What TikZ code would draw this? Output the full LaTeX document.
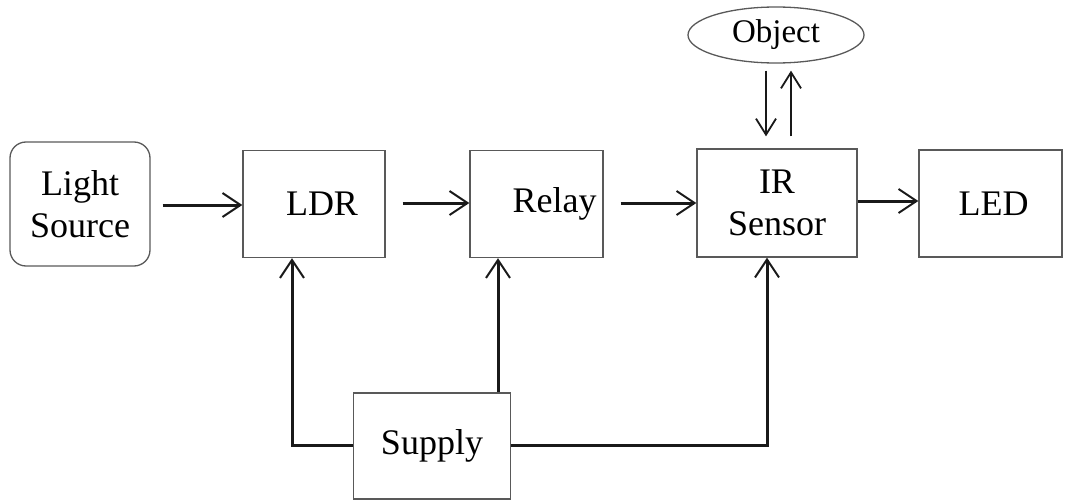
\documentclass[tikz,border=0pt]{standalone}
\usepackage{fontspec}
\setmainfont{Liberation Serif}
\usetikzlibrary{arrows.meta,shapes.geometric}
\begin{document}
\begin{tikzpicture}[x=1pt,y=-1pt,
  blk/.style={draw=black!65, line width=1.3pt, minimum width=#1, inner sep=0pt, align=center, font=\fontsize{36}{42}\selectfont},
  arr/.style={line width=3pt, draw=black!90, -{Straight Barb[length=18pt,width=24pt,line width=2pt]}},
  arrs/.style={line width=2pt, draw=black!90, -{Straight Barb[length=16pt,width=20pt,line width=1.8pt]}}]
\useasboundingbox (0,0) rectangle (1070,500);
\node[blk=140pt, minimum height=124pt, rounded corners=16pt] (light) at (80,204) {Light\\Source};
\node[blk=142pt, minimum height=107pt] (ldr) at (314,204) {\hspace*{16pt}LDR};
\node[blk=133pt, minimum height=107pt] (relay) at (536.5,204) {\hspace*{36pt}Relay};
\node[blk=160pt, minimum height=108pt] (ir) at (777,203) {IR\\Sensor};
\node[blk=143pt, minimum height=107pt] (led) at (990.5,203.5) {\hspace*{6pt}LED};
\node[blk=157pt, minimum height=106pt] (supply) at (432,446) {Supply};
\node[ellipse, draw=black!65, line width=1.3pt, minimum width=176pt, minimum height=56pt, inner sep=0pt, font=\fontsize{33}{38}\selectfont] (object) at (776,35) {Object};

\draw[arr, shorten <=12pt] (light.east |- 0,205) -- (ldr.west |- 0,205);
\draw[arr, shorten <=17pt] (ldr.east |- 0,203) -- (relay.west |- 0,203);
\draw[arr, shorten <=17pt] (relay.east |- 0,203) -- (ir.west |- 0,203);
\draw[arr] (ir.east |- 0,201) -- (led.west |- 0,201);

\draw[arrs, shorten <=7pt, shorten >=12pt] (object.south -| 766,0) -- (ir.north -| 766,0);
\draw[arrs, shorten <=12pt, shorten >=7pt] (ir.north -| 791,0) -- (object.south -| 791,0);

\draw[arr] (supply.west |- 0,445) -| (ldr.south -| 292,0);
\draw[arr] (supply.north -| 498,0) -- (relay.south -| 498,0);
\draw[arr] (supply.east |- 0,445) -| (ir.south -| 767,0);
\end{tikzpicture}
\end{document}
